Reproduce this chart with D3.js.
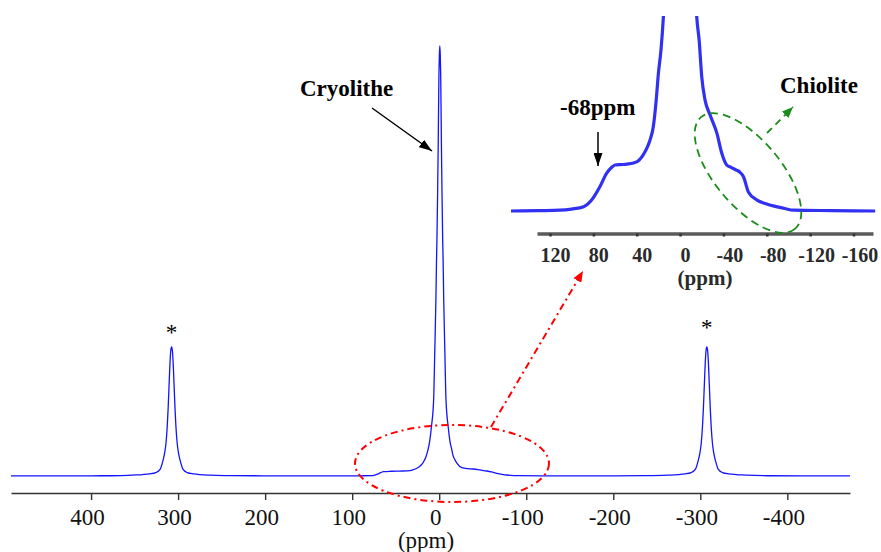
<!DOCTYPE html>
<html>
<head>
<meta charset="utf-8">
<script src="https://cdn.jsdelivr.net/npm/d3@7"></script>
<style>
  html, body { margin: 0; padding: 0; background: #fff; }
  svg { display: block; }
  svg text { font-family: "Liberation Serif", "Times New Roman", serif !important; }
</style>
</head>
<body>
<svg id="chart" width="881" height="552"></svg>
<script>
// ---- Main spectrum (ppm, relative intensity; main peak = 100) ----
const mainPpm = [492, 440, 400, 377.5, 352.5, 332.5, 325.5, 320.5, 317.5, 315.5, 314, 312.5, 311.5, 310.5, 309.5, 308.5, 307.5,
  306.5, 305.5, 304.5, 303.5, 302.5, 301, 299.5, 297.5, 294.5, 289.5, 282.5, 262.5, 237.5, 200, 150, 114, 90, 76, 70, 64, 55, 45,
  37, 30, 25.6, 21, 18, 15.5, 13, 11, 8.9, 6.4, 5.05, 3.8, 3.1, 2.6, 1.8, 1.2, 0.3, -0.2, -0.7, -1.2, -1.7, -2.6, -3.2, -4.0,
  -4.5, -5.2, -6.45, -7.8, -10.3, -12.4, -14.6, -15.7, -18, -20.3, -26, -32, -39.5, -47, -54.8, -60, -66.3, -72, -77.8, -93,
  -150, -200, -237.5, -262.5, -282.5, -289.5, -294.5, -297.5, -299.5, -301, -302.5, -303.5, -304.5, -305.5, -306.5, -307.5,
  -308.5, -309.5, -310.5, -311.5, -312.5, -314, -315.5, -317.5, -320.5, -325.5, -332.5, -352.5, -377.5, -420, -472];
const mainIntensity = [0.03, 0.04, 0.05, 0.06, 0.2, 0.5, 0.8, 1.6, 3.5, 5.3, 7.5, 11.5, 15.5, 20.5, 25.5, 29, 30,
  29, 25.5, 20.5, 15.5, 11.5, 7.5, 5.3, 3.5, 1.6, 0.8, 0.5, 0.2, 0.08, 0.05, 0.03, 0.02, 0.05, 0.1, 0.5, 1.0, 1.1, 1.15,
  1.2, 1.45, 1.8, 2.5, 3.3, 4.3, 6.0, 8.0, 11.5, 17.7, 29.3, 41, 50, 55, 66, 76, 93.5, 98, 100, 98, 93.5, 76, 66, 55,
  50, 41, 29.3, 17.7, 11.5, 8.0, 6.0, 4.9, 3.8, 3.0, 1.93, 1.7, 1.63, 1.4, 1.16, 0.95, 0.63, 0.4, 0.23, 0.07,
  0.04, 0.05, 0.08, 0.2, 0.5, 0.8, 1.6, 3.5, 5.3, 7.5, 11.5, 15.5, 20.5, 25.5, 29, 30,
  29, 25.5, 20.5, 15.5, 11.5, 7.5, 5.3, 3.5, 1.6, 0.8, 0.5, 0.2, 0.06, 0.04, 0.03];
const mainTicks = [400, 300, 200, 100, 0, -100, -200, -300, -400];
const sidebandPpm = [307.5, -307.5];
const sidebandHeight = [30, 30];

// ---- Inset (expanded base of central line) ----
const insetPpm = [156, 130, 111, 100, 89, 81.6, 74, 67.7, 63, 60, 55, 49, 40, 34, 30, 27.7, 24.7, 22, 20, 17.6, 15.4, 13, 10,
  -10, -13, -15.4, -17.6, -20, -23, -27.7, -34, -38.5, -43, -47, -52, -55, -58.5, -63, -71, -80, -95.6, -105, -140, -180];
const insetIntensity = [0, 0.01, 0.02, 0.05, 0.11, 0.28, 0.62, 0.97, 1.12, 1.18, 1.19, 1.2, 1.26, 1.44, 1.65, 1.82, 2.16, 2.85, 3.53, 4.13, 4.98, 6.5, 9,
  9, 6.5, 4.98, 4.38, 3.44, 2.85, 2.46, 1.99, 1.48, 1.18, 1.12, 1.05, 1.0, 0.88, 0.49, 0.28, 0.18, 0.07, 0.02, 0.01, 0];
const insetTicks = [120, 80, 40, 0, -40, -80, -120, -160];

const SERIF = "'Liberation Serif', 'Times New Roman', serif";
const svg = d3.select("#chart");

// scales
const x = d3.scaleLinear().domain([492, -472]).range([11, 850]);
const y = d3.scaleLinear().domain([0, 100]).range([476, 46]);
const xi = d3.scaleLinear().domain([132, -178]).range([537, 873]);
const yi = d3.scaleLinear().domain([0, 5]).range([211, 16]);

// defs: markers, clip
const defs = svg.append("defs");
function marker(id, color, len, wid) {
  defs.append("marker").attr("id", id)
    .attr("viewBox", `0 0 ${len} ${wid}`).attr("refX", len).attr("refY", wid / 2)
    .attr("markerWidth", len).attr("markerHeight", wid)
    .attr("markerUnits", "userSpaceOnUse").attr("orient", "auto")
    .append("path").attr("d", `M0,0L${len},${wid / 2}L0,${wid}Z`).attr("fill", color);
}
marker("arrBlack", "#000", 13, 9);
marker("arrRed", "#ff0000", 11, 9);
marker("arrGreen", "#1a8c1a", 11, 9);
defs.append("clipPath").attr("id", "insetClip").append("rect")
  .attr("x", 0).attr("y", yi(5)).attr("width", 881).attr("height", yi(0) - yi(5) + 30);

// main axis
const axis = svg.append("g").attr("transform", `translate(0,${493})`)
  .attr("font-family", SERIF)
  .call(d3.axisBottom(x).tickValues(mainTicks).tickSize(7).tickSizeOuter(0).tickPadding(9)
    .tickFormat(d => String(d)));
axis.attr("font-family", SERIF);
axis.select(".domain").attr("stroke", "#333").attr("stroke-width", 1.6);
axis.selectAll(".tick line").attr("stroke", "#333").attr("stroke-width", 1.4);
axis.selectAll(".tick text").attr("fill", "#111").attr("font-size", 23)
  .style("font-family", SERIF).attr("dx", -4);
svg.append("text").attr("x", 426).attr("y", 548).attr("text-anchor", "middle")
  .attr("font-size", 23).attr("fill", "#111").text("(ppm)");

// main spectrum
const mainData = mainPpm.map((p, i) => [p, mainIntensity[i]]);
svg.append("path").datum(mainData)
  .attr("fill", "none").attr("stroke", "#1414ff").attr("stroke-width", 1.3)
  .attr("d", d3.line().x(d => x(d[0])).y(d => y(d[1])).curve(d3.curveMonotoneX));

// asterisks for spinning sidebands
svg.selectAll(".ast").data(sidebandPpm).enter().append("text")
  .attr("class", "ast")
  .attr("x", d => x(d)).attr("y", (d, i) => y(sidebandHeight[i]) - (i === 0 ? 7 : 12))
  .attr("text-anchor", "middle").attr("font-size", 23).attr("fill", "#000").text("*");

// Cryolithe label + arrow
svg.append("text").attr("x", 300).attr("y", 96).attr("font-size", 23)
  .attr("font-weight", "bold").attr("fill", "#000").text("Cryolithe");
svg.append("line").attr("x1", 372).attr("y1", 108).attr("x2", 432).attr("y2", 151)
  .attr("stroke", "#000").attr("stroke-width", 1.5).attr("marker-end", "url(#arrBlack)");

// red dash-dot ellipse and arrow
svg.append("ellipse").attr("cx", 452).attr("cy", 463.5).attr("rx", 97).attr("ry", 38.5)
  .attr("fill", "none").attr("stroke", "#ff0000").attr("stroke-width", 2)
  .attr("stroke-dasharray", "7,4,2,4");
svg.append("line").attr("x1", 491).attr("y1", 427).attr("x2", 583).attr("y2", 271)
  .attr("stroke", "#ff0000").attr("stroke-width", 2).attr("stroke-dasharray", "7,4,2,4")
  .attr("marker-end", "url(#arrRed)");

// ---- inset ----
const ia = svg.append("g").attr("transform", `translate(0,${233.5})`)
  .call(d3.axisBottom(xi).tickValues(insetTicks).tickSize(3).tickSizeOuter(0).tickPadding(11)
    .tickFormat(d => String(d)));
ia.attr("font-family", SERIF);
ia.select(".domain").attr("stroke", "#5a5a5a").attr("stroke-width", 3.5);
ia.selectAll(".tick line").attr("stroke", "#333").attr("stroke-width", 2.5);
ia.selectAll(".tick text").attr("fill", "#2a2a2a").attr("font-size", 20).attr("font-weight", "bold")
  .style("font-family", SERIF)
  .attr("dx", (d) => d < 0 ? 6 : 5);
svg.append("text").attr("x", 705).attr("y", 285).attr("text-anchor", "middle")
  .attr("font-size", 21).attr("font-weight", "bold").attr("fill", "#2a2a2a").text("(ppm)");

const insetData = insetPpm.map((p, i) => [p, insetIntensity[i]]);
svg.append("path").datum(insetData).attr("clip-path", "url(#insetClip)")
  .attr("fill", "none").attr("stroke", "#3131f2").attr("stroke-width", 3.2)
  .attr("d", d3.line().x(d => xi(d[0])).y(d => yi(d[1])).curve(d3.curveMonotoneX));

// -68ppm label + arrow
svg.append("text").attr("x", 560).attr("y", 115).attr("font-size", 23)
  .attr("font-weight", "bold").attr("fill", "#000").text("-68ppm");
svg.append("line").attr("x1", 598).attr("y1", 132).attr("x2", 598).attr("y2", 166)
  .attr("stroke", "#000").attr("stroke-width", 1.5).attr("marker-end", "url(#arrBlack)");

// Chiolite: green dashed tilted ellipse + arrow
svg.append("ellipse").attr("cx", 0).attr("cy", 0).attr("rx", 73).attr("ry", 33)
  .attr("transform", "translate(748,173) rotate(50)")
  .attr("fill", "none").attr("stroke", "#1a8c1a").attr("stroke-width", 1.8)
  .attr("stroke-dasharray", "8,5");
svg.append("line").attr("x1", 767).attr("y1", 133).attr("x2", 793).attr("y2", 107)
  .attr("stroke", "#1a8c1a").attr("stroke-width", 1.8).attr("stroke-dasharray", "7,5")
  .attr("marker-end", "url(#arrGreen)");
svg.append("text").attr("x", 780).attr("y", 93).attr("font-size", 23)
  .attr("font-weight", "bold").attr("fill", "#000").text("Chiolite");
</script>
</body>
</html>
